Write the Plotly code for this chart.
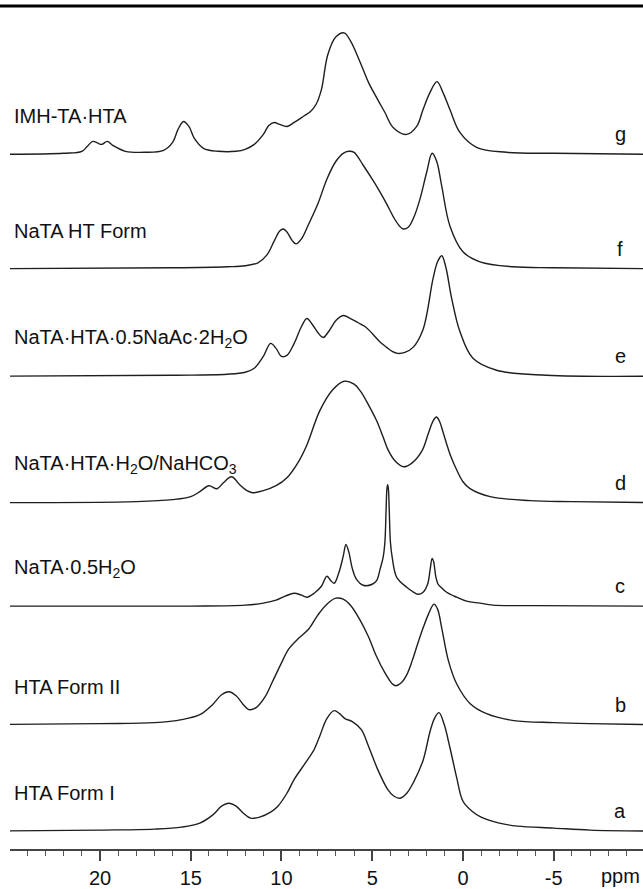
import plotly.graph_objects as go

# ---- data (ppm, intensity above own baseline) ----
names = ["HTA Form I", "HTA Form II", "NaTA·0.5H<sub>2</sub>O",
         "NaTA·HTA·H<sub>2</sub>O/NaHCO<sub>3</sub>",
         "NaTA·HTA·0.5NaAc·2H<sub>2</sub>O", "NaTA HT Form", "IMH-TA·HTA"]
letters = ["a", "b", "c", "d", "e", "f", "g"]
offsets = [18, 125, 244, 348, 475, 583, 698]

a_ppm = [26, 20, 17, 15.5, 14.5, 13.8, 13.3, 12.9, 12.5, 12.1, 11.7, 11.2, 10.6, 10.2, 9.7, 9.3, 8.7, 8.2, 7.9,
         7.5, 7.1, 6.8, 6.5, 6.1, 5.6, 5.2, 4.7, 4.15, 3.8, 3.47, 3.1, 2.7, 2.2, 1.8, 1.55, 1.32, 1.05, 0.72,
         0.35, 0, -0.5, -1, -2, -3, -5, -7, -10.5]
a_int = [0, 1, 2, 4, 8, 16, 25, 28, 25, 18, 13, 14, 19, 25, 38, 52, 68, 82, 95,
         113, 121, 118, 113, 110, 102, 85, 62, 42, 35, 33, 38, 50, 71, 101, 114, 119, 108, 84,
         54, 30, 20, 14, 8, 5, 3, 1, 0]

b_ppm = [26, 20, 17, 15.5, 14.5, 13.8, 13.3, 12.9, 12.5, 12.1, 11.8, 11.4, 10.9, 10.5, 10.0, 9.6, 9.1, 8.5,
         8.0, 7.5, 7.0, 6.6, 6.2, 5.7, 5.2, 4.8, 4.3, 3.9, 3.7, 3.4, 3.1, 2.8, 2.5, 2.2, 1.9, 1.6, 1.4, 1.17,
         0.8, 0.35, -0.4, -1.3, -2.8, -5, -7, -10.5]
b_int = [0, 1, 2, 5, 10, 20, 30, 33, 29, 20, 15, 17, 28, 43, 62, 76, 86, 96,
         110, 121, 127, 126, 120, 106, 88, 70, 52, 41, 39, 42, 50, 64, 81, 97, 111, 121, 116, 97,
         64, 41, 21, 11, 4, 2, 1, 0]

c_ppm = [26, 15, 12, 11, 10.3, 9.8, 9.3, 8.9, 8.6, 8.2, 7.8, 7.5, 7.3, 7.1, 6.85, 6.6, 6.45, 6.3, 6.1, 5.9,
         5.5, 5.0, 4.75, 4.57, 4.4, 4.3, 4.24, 4.19, 4.15, 4.11, 4.06, 4.0, 3.9, 3.65, 3.1, 2.8, 2.5, 2.2,
         1.95, 1.8, 1.7, 1.62, 1.5, 1.37, 1.27, 0.9, 0.35, -0.2, -0.94, -1.65, -4, -10.5]
c_int = [0, 0, 1, 3, 6, 10, 13, 11, 9, 13, 20, 30, 26, 23, 33, 50, 62, 55, 38, 28,
         21, 22, 26, 37, 49, 65, 95, 118, 122, 118, 95, 65, 49, 29, 19, 15, 12, 14,
         22, 38, 48, 45, 30, 22, 20, 14, 9, 5, 3, 1, 0.5, 0]

d_ppm = [26, 18, 16, 15, 14.5, 14.0, 13.55, 13.2, 12.75, 12.3, 11.9, 11.6, 11.0, 10.3, 9.7, 9.1, 8.6, 7.9,
         7.2, 6.55, 6.0, 5.65, 5.2, 4.75, 4.4, 4.1, 3.7, 3.27, 2.8, 2.26, 1.9, 1.65, 1.46, 1.3, 1.1, 0.9,
         0.66, 0.35, 0, -0.39, -1.5, -3.7, -6, -10.5]
d_int = [0, 1, 3, 6, 11, 17, 14, 20, 26, 18, 12, 10, 12, 17, 25, 40, 58, 92,
         113, 122, 119, 112, 98, 82, 66, 52, 41, 36, 40, 52, 70, 82, 86, 82, 71, 59,
         46, 33, 21, 14, 6, 2, 1, 0]

e_ppm = [26, 16, 13, 12, 11.5, 11.0, 10.6, 10.3, 10.0, 9.7, 9.3, 8.9, 8.6, 8.3, 8.0, 7.7, 7.4, 7.0, 6.6,
         6.2, 5.8, 5.4, 5.0, 4.6, 4.2, 3.9, 3.6, 3.2, 2.75, 2.2, 1.65, 1.4, 1.17, 0.95, 0.62, 0.17, -0.55,
         -1.85, -4.6, -10.5]
e_int = [0, 1, 2, 4, 8, 20, 33, 28, 20, 21, 33, 50, 58, 52, 44, 39, 45, 56, 61,
         58, 54, 50, 43, 35, 29, 25, 23, 24, 29, 47, 98, 115, 121, 110, 78, 45, 18,
         6, 1, 0]

f_ppm = [26, 16, 13, 12, 11.3, 10.8, 10.4, 10.1, 9.9, 9.7, 9.4, 9.2, 8.9, 8.5, 8.0, 7.5, 7.0, 6.6, 6.3,
         6.0, 5.5, 5.0, 4.6, 4.2, 3.8, 3.5, 3.3, 3.0, 2.7, 2.37, 2.0, 1.7, 1.45, 1.17, 0.72, 0.0, -0.94,
         -2.75, -5, -10.5]
f_int = [0, 1, 2, 3, 6, 14, 28, 38, 40, 37, 28, 25, 30, 45, 65, 90, 108, 116, 118,
         117, 104, 90, 78, 65, 51, 43, 40, 42, 52, 70, 97, 116, 108, 83, 43, 17, 7,
         2, 1, 0]

g_ppm = [26, 22, 21, 20.7, 20.4, 20.1, 19.9, 19.6, 19.3, 18.6, 17.5, 16.5, 16.0, 15.7, 15.4, 15.1, 14.8,
         14.3, 13.5, 12.5, 12.0, 11.5, 11.0, 10.7, 10.4, 10.1, 9.7, 9.3, 8.8, 8.4, 8.1, 7.8, 7.45, 7.0,
         6.55, 6.2, 5.7, 5.2, 4.7, 4.3, 3.85, 3.1, 2.55, 2.2, 1.82, 1.43, 1.1, 0.72, 0.17, -0.75, -2.4,
         -5, -10.5]
g_int = [0, 1, 3, 8, 13, 11, 10, 13, 9, 3, 2, 4, 12, 25, 33, 28, 16,
         6, 3, 3, 5, 10, 20, 29, 32, 30, 28, 32, 38, 43, 50, 65, 100, 118,
         122, 114, 94, 72, 55, 42, 27, 20, 28, 45, 62, 73, 62, 45, 22, 7, 2,
         1, 0]

spectra = [(a_ppm, a_int), (b_ppm, b_int), (c_ppm, c_int), (d_ppm, d_int),
           (e_ppm, e_int), (f_ppm, f_int), (g_ppm, g_int)]

tick_vals = [20, 15, 10, 5, 0, -5]
tick_text = ["20", "15", "10", "5", "0", "-5"]

FONT = "Liberation Sans, Arial, sans-serif"
LINE = "#1e1e1e"

fig = go.Figure()
for (ppm, inten), off in zip(spectra, offsets):
    fig.add_trace(go.Scatter(x=ppm, y=[v + off for v in inten], mode="lines",
                             line=dict(color=LINE, width=1.4, shape="spline", smoothing=1.0),
                             showlegend=False, hoverinfo="skip"))

for name, letter, off in zip(names, letters, offsets):
    fig.add_annotation(x=0.003, xref="paper", y=off + 38, yref="y", text=name,
                       xanchor="left", yanchor="middle", showarrow=False,
                       font=dict(family=FONT, size=20, color="#111"))
    fig.add_annotation(x=0.9637, xref="paper", y=off + 20, yref="y", text=letter,
                       xanchor="center", yanchor="middle", showarrow=False,
                       font=dict(family=FONT, size=20, color="#111"))

fig.add_annotation(x=0.964, xref="paper", y=-27 / 847, yref="paper", text="ppm",
                   xanchor="center", yanchor="middle", showarrow=False,
                   font=dict(family=FONT, size=20, color="#111"))

fig.add_shape(type="line", xref="paper", yref="paper", x0=-0.02, x1=1.0, y0=1.0, y1=1.0,
              line=dict(color="#000", width=3))

fig.update_layout(
    width=643, height=889,
    margin=dict(l=10, r=0, t=6, b=36),
    paper_bgcolor="white", plot_bgcolor="white",
    xaxis=dict(range=[24.96, -9.92], tickvals=tick_vals, ticktext=tick_text,
               ticks="outside", ticklen=10, tickwidth=1.5, tickcolor="#444",
               showline=True, linecolor="#444", linewidth=1.5,
               showgrid=False, zeroline=False,
               tickfont=dict(family=FONT, size=20, color="#111"),
               minor=dict(dtick=1, tick0=0, ticks="outside", ticklen=5, tickwidth=1,
                          tickcolor="#555", showgrid=False)),
    yaxis=dict(range=[0, 847], visible=False, showgrid=False, zeroline=False),
)

fig.write_html("out.html")
